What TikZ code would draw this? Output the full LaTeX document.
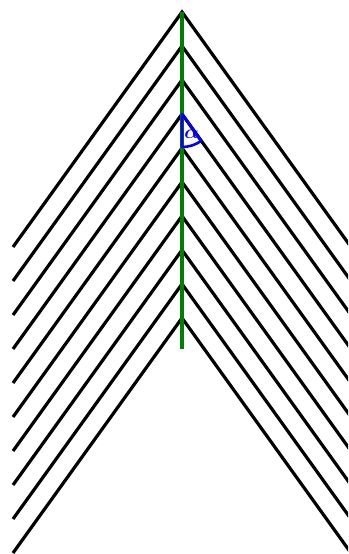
\documentclass[tikz,border=0pt]{standalone}
\usepackage{amsmath,bm}
\usetikzlibrary{calc}
\begin{document}
\begin{tikzpicture}[x=1pt,y=-1pt,
  chev/.style={draw=black,line width=3.2pt},
  axisline/.style={draw={rgb,255:red,0;green,128;blue,0},line width=3.4pt},
  anglemark/.style={draw={rgb,255:red,0;green,0;blue,255},line width=2.6pt,line join=round}]
\useasboundingbox (0,0) rectangle (348,554);
\clip (0,0) rectangle (348,554);
\foreach \i in {0,...,9}{
  \coordinate (a\i) at (182,12+34*\i);
  \draw[chev] ($(a\i)+(-169,235)$) -- (a\i) -- ($(a\i)+(169,235)$);
}
\coordinate (gtop) at (182,12);
\coordinate (gbot) at (182,349);
\draw[axisline] (gtop) -- (gbot);
\coordinate (v) at (182,114);
\coordinate (p) at (201.3,140.8);
\draw[anglemark] (v) -- (p) arc[start angle=-54.3,end angle=-90,radius=33pt] -- cycle;
\node[text={rgb,255:red,0;green,0;blue,255},inner sep=0pt,scale=1.9] (alpha) at (191.5,134.5) {$\bm{\alpha}$};
\end{tikzpicture}
\end{document}
